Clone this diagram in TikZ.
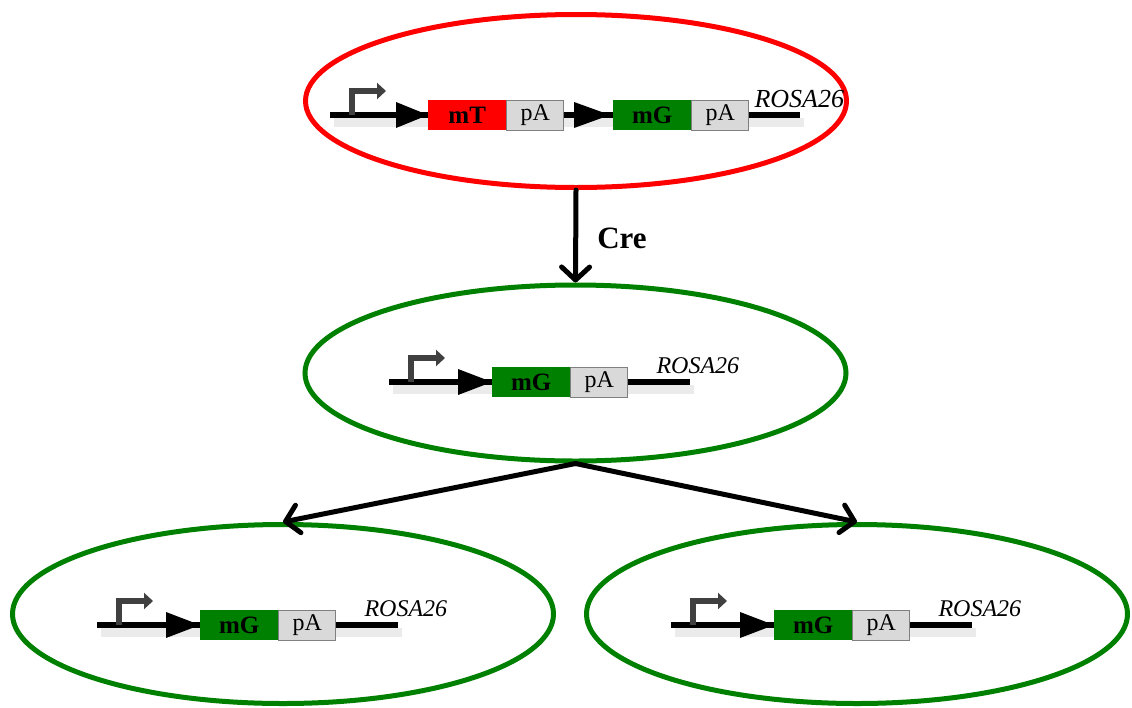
\documentclass[tikz,border=0pt]{standalone}
\usepackage{fontspec}
\setmainfont{Liberation Serif}
\usetikzlibrary{positioning}
\usetikzlibrary{shapes.geometric}
\usetikzlibrary{arrows.meta}

\definecolor{mtred}{HTML}{FF0000}
\definecolor{mggreen}{HTML}{008000}
\definecolor{pagray}{HTML}{D9D9D9}
\definecolor{promgray}{HTML}{404040}

\tikzset{
 cell/.style={draw, ellipse, line width=5, minimum width=541, minimum height=173, inner sep=0},
 gene/.style={minimum width=78, minimum height=30, inner sep=0, font=\fontsize{25}{25}\selectfont\bfseries},
 pa/.style={draw=gray, fill=pagray, minimum width=57, minimum height=30, inner sep=0, line width=0.8, font=\fontsize{24}{24}\selectfont},
 dna/.style={line width=5.5},
 dnashadow/.style={line width=9, black!8},
 promoter/.style={promgray, line width=6.5, -{Triangle[length=9pt,width=16pt]}},
 flow/.style={line width=5, line cap=round, -{Straight Barb[length=13pt,width=28pt,line width=5pt,round]}},
 locus/.style={anchor=base west, font=\fontsize{24}{24}\selectfont\itshape}
}

\begin{document}
\begin{tikzpicture}[x=1pt, y=-1pt]
\useasboundingbox (0,0) rectangle (1132,707);

% cells
\node[cell, draw=mtred] (top) at (576,101) {};
\node[cell, draw=mggreen, minimum height=176] (mid) at (575.5,373) {};
\node[cell, draw=mggreen, minimum height=179] (botL) at (283,614) {};
\node[cell, draw=mggreen, minimum height=179] (botR) at (857,614) {};

% connectors
\draw[flow] (top.south) -- (mid.north);
\node[font=\fontsize{31}{31}\selectfont\bfseries] (cre) at (622,238) {Cre};
\draw[flow] (mid.south) -- (botL.north);
\draw[flow] (mid.south) -- (botR.north);

% floxed construct
\coordinate (ts) at (330,115);
\coordinate (te) at (800,115);
\draw[dnashadow] ([shift={(4,7)}]ts) -- ([shift={(4,7)}]te);
\draw[dna] (ts) -- (te);
\draw[promoter] (352,115) -- (352,91) -- (386,91);
\fill (396,102) -- (428,115) -- (396,128) -- cycle;
\node[gene, fill=mtred, anchor=west] (mT) at (428,115) {mT};
\node[pa, right=0 of mT] (pA1) {pA};
\fill (574,102) -- (610,115) -- (574,128) -- cycle;
\node[gene, fill=mggreen, anchor=west] (mGt) at (613,115) {mG};
\node[pa, right=0 of mGt] (pA2) {pA};
\node[locus, font=\fontsize{26}{26}\selectfont\itshape] (rt) at (751,107) {ROSA26};

% recombined constructs
\foreach \n/\x/\y in {m/389/382, l/97/625, r/671/625} {
 \coordinate (s\n) at (\x,\y);
 \coordinate (e\n) at ({\x+301},\y);
 \draw[dnashadow] ([shift={(4,7)}]s\n) -- ([shift={(4,7)}]e\n);
 \draw[dna] (s\n) -- (e\n);
 \draw[promoter] ({\x+22},\y) -- ({\x+22},{\y-24}) -- ({\x+56},{\y-24});
 \fill ({\x+69},{\y-13}) -- ({\x+103},\y) -- ({\x+69},{\y+13}) -- cycle;
 \node[gene, fill=mggreen, anchor=west] (mG\n) at ({\x+103},\y) {mG};
 \node[pa, right=0 of mG\n] (pA\n) {pA};
 \node[locus] (r\n) at ({\x+264},{\y-9}) {ROSA26};
}
\end{tikzpicture}
\end{document}
